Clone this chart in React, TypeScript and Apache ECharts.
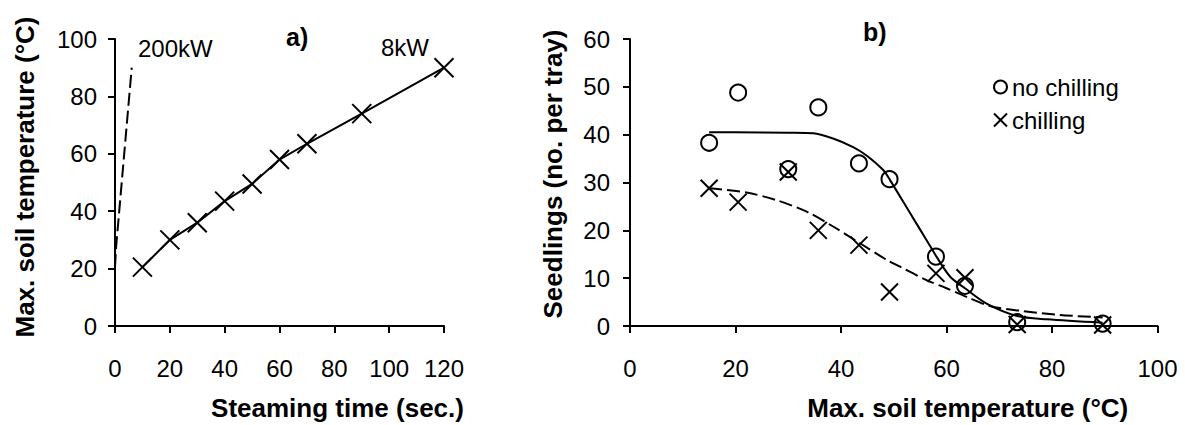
import React, { useEffect, useRef } from "react";
import * as echarts from "echarts";

// ---- Data ----
// Panel a) steaming time vs max soil temperature
const kw8Time = [10, 20, 30, 40, 50, 60, 70, 90, 120];
const kw8Temp = [20.5, 30, 36, 43.5, 49.5, 58, 63.5, 74, 90];
const kw200Time = [0, 0.4, 6.1];
const kw200Temp = [20.5, 27.5, 90];

// Panel b) seedlings vs max soil temperature
const soilTemp = [15, 20.5, 30, 35.7, 43.4, 49.2, 58, 63.5, 73.4, 89.6];
const noChill = [38.3, 48.8, 32.8, 45.7, 34.0, 30.7, 14.5, 8.4, 0.8, 0.5];
const chill = [28.8, 25.9, 32.2, 20.0, 16.9, 7.1, 11.0, 10.1, 0.3, 0.2];

// fitted curves
const fitNoChillX = [15, 20, 30, 34.75, 38.5, 42.3, 44.9, 48, 49.3, 53.7, 56.2, 58.1, 60.7, 63.5, 67.6, 73.4, 79, 89.6];
const fitNoChillY = [40.5, 40.5, 40.4, 40.3, 39.2, 37.4, 35.6, 32.6, 30.5, 22.5, 18.0, 14.5, 10.3, 7.9, 4.7, 2.1, 1.4, 0.7];
const fitChillX = [15, 22.1, 27.8, 33.5, 38.5, 43.6, 48.7, 51.2, 56.2, 60, 63.8, 68.2, 73.9, 81.5, 89.6];
const fitChillY = [28.8, 27.9, 26.3, 23.9, 20.8, 17.3, 13.8, 12.4, 9.6, 7.9, 6.1, 4.2, 3.2, 2.3, 1.8];

const FONT = '"Liberation Sans", Arial, Helvetica, sans-serif';
const X_PATH = "path://M0,0L10,10M10,0L0,10";

const zip = (xs: number[], ys: number[]) => xs.map((x, i) => [x, ys[i]]);

function axisBase(gridIndex: number, min: number, max: number, interval: number) {
  return {
    type: "value" as const,
    gridIndex,
    min,
    max,
    interval,
    axisLine: { show: true, onZero: false, lineStyle: { color: "#000", width: 2, opacity: 1 } },
    axisTick: { show: true, length: 7, lineStyle: { color: "#000", width: 2, opacity: 1 } },
    splitLine: { show: false },
    nameLocation: "middle" as const,
  };
}

export default function App() {
  const ref = useRef<HTMLDivElement>(null);

  useEffect(() => {
    document.body.style.margin = "0";
    if (!ref.current) return;
    const chart = echarts.init(ref.current, undefined, { renderer: "svg" });

    const labelStyle = { color: "#000", fontSize: 24, fontFamily: FONT };
    const nameStyle = { color: "#000", fontSize: 26, fontWeight: "bold" as const, fontFamily: FONT };

    chart.setOption({
      animation: false,
      backgroundColor: "#fff",
      grid: [
        { left: 115, top: 39, width: 329, height: 287, outerBoundsMode: "none", containLabel: false },
        { left: 630, top: 39, width: 527.5, height: 287, outerBoundsMode: "none", containLabel: false },
      ],
      xAxis: [
        {
          ...axisBase(0, 0, 120, 20),
          axisLabel: { ...labelStyle, margin: 30 },
          name: "Steaming time (sec.)",
          nameGap: 69,
          nameTextStyle: { ...nameStyle, padding: [0, 0, 0, 116] },
        },
        {
          ...axisBase(1, 0, 100, 20),
          axisLabel: { ...labelStyle, margin: 30 },
          name: "Max. soil temperature (°C)",
          nameGap: 69,
          nameTextStyle: { ...nameStyle, padding: [0, 0, 0, 148] },
        },
      ],
      yAxis: [
        {
          ...axisBase(0, 0, 100, 20),
          axisLabel: { ...labelStyle, margin: 18 },
          name: "Max. soil temperature (°C)",
          nameGap: 77,
          nameRotate: 90,
          nameTextStyle: { ...nameStyle, padding: [0, 0, 0, 11] },
        },
        {
          ...axisBase(1, 0, 60, 10),
          axisLabel: { ...labelStyle, margin: 20 },
          name: "Seedlings (no. per tray)",
          nameGap: 64,
          nameRotate: 90,
          nameTextStyle: { ...nameStyle, padding: [0, 0, 0, 17] },
        },
      ],
      legend: {
        orient: "vertical",
        left: 988,
        top: 70,
        itemWidth: 13,
        itemHeight: 13,
        itemGap: 9,
        selectedMode: false,
        textStyle: { color: "#000", fontSize: 24, fontFamily: FONT },
        itemStyle: { color: "rgba(0,0,0,0)", borderColor: "#000", borderWidth: 2, opacity: 1 },
        data: [
          { name: "no chilling", icon: "circle" },
          { name: "chilling", icon: X_PATH },
        ],
      },
      graphic: [
        { type: "text", x: 286, y: 37, style: { text: "a)", font: `bold 25px ${FONT}`, fill: "#000", textVerticalAlign: "middle" } },
        { type: "text", x: 863, y: 32, style: { text: "b)", font: `bold 25px ${FONT}`, fill: "#000", textVerticalAlign: "middle" } },
        { type: "text", x: 138, y: 48, style: { text: "200kW", font: `24px ${FONT}`, fill: "#000", textVerticalAlign: "middle" } },
        { type: "text", x: 381, y: 47, style: { text: "8kW", font: `24px ${FONT}`, fill: "#000", textVerticalAlign: "middle" } },
      ],
      series: [
        {
          name: "200kW",
          type: "line",
          xAxisIndex: 0,
          yAxisIndex: 0,
          data: zip(kw200Time, kw200Temp),
          showSymbol: false,
          symbol: "none",
          lineStyle: { color: "#000", width: 2, type: [13, 5], opacity: 1 },
          z: 2,
        },
        {
          name: "8kW",
          type: "line",
          xAxisIndex: 0,
          yAxisIndex: 0,
          data: zip(kw8Time, kw8Temp),
          symbol: X_PATH,
          symbolSize: 19,
          showAllSymbol: true,
          clip: false,
          lineStyle: { color: "#000", width: 2, opacity: 1 },
          itemStyle: { color: "#000", borderColor: "#000", borderWidth: 2, opacity: 1 },
          z: 3,
        },
        {
          name: "fit no chilling",
          type: "line",
          xAxisIndex: 1,
          yAxisIndex: 1,
          data: zip(fitNoChillX, fitNoChillY),
          symbol: "none",
          smooth: 0.3,
          lineStyle: { color: "#000", width: 2, opacity: 1 },
          z: 2,
        },
        {
          name: "fit chilling",
          type: "line",
          xAxisIndex: 1,
          yAxisIndex: 1,
          data: zip(fitChillX, fitChillY),
          symbol: "none",
          smooth: 0.3,
          lineStyle: { color: "#000", width: 2, type: [13, 5], opacity: 1 },
          z: 2,
        },
        {
          name: "no chilling",
          type: "scatter",
          xAxisIndex: 1,
          yAxisIndex: 1,
          data: zip(soilTemp, noChill),
          symbol: "circle",
          symbolSize: 16,
          clip: false,
          itemStyle: { color: "rgba(0,0,0,0)", borderColor: "#000", borderWidth: 2, opacity: 1 },
          z: 3,
        },
        {
          name: "chilling",
          type: "scatter",
          xAxisIndex: 1,
          yAxisIndex: 1,
          data: zip(soilTemp, chill),
          symbol: X_PATH,
          symbolSize: 17,
          clip: false,
          itemStyle: { color: "#000", borderColor: "#000", borderWidth: 2, opacity: 1 },
          z: 3,
        },
      ],
    });

    return () => chart.dispose();
  }, []);

  return (
    <div
      ref={ref}
      style={{ position: "absolute", left: 0, top: 0, width: 1185, height: 425 }}
    />
  );
}
